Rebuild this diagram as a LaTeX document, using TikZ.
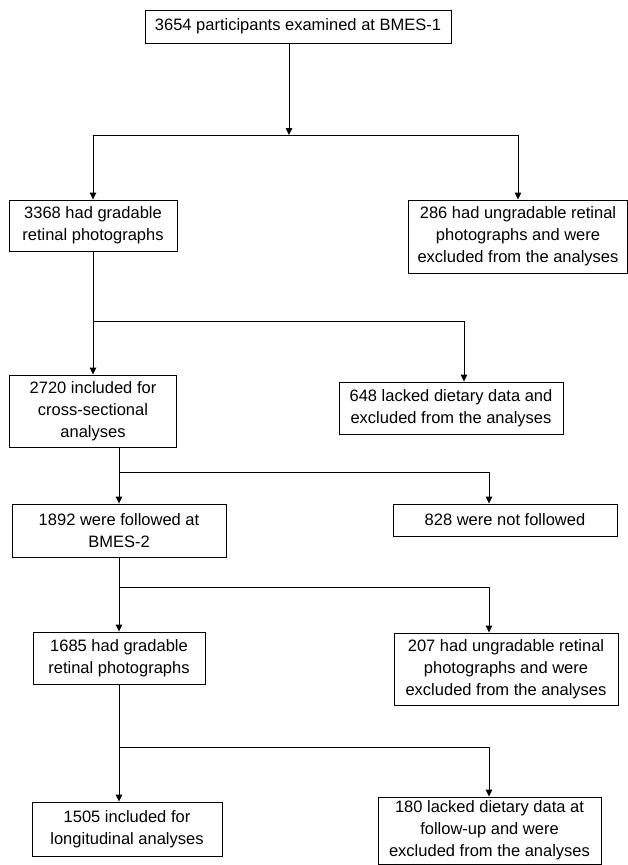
\documentclass[tikz,border=0pt]{standalone}
\usepackage{fontspec}
\setmainfont{Liberation Sans}
\usetikzlibrary{arrows.meta}

\tikzset{
  caixa/.style={draw, line width=0.9bp, align=center, inner sep=2bp,
    font=\fontsize{16.5bp}{22bp}\selectfont},
  seta/.style={line width=0.9bp, -{Triangle[length=7bp,width=6.5bp]}},
  linha/.style={line width=0.9bp}
}

\begin{document}
\begin{tikzpicture}[x=1bp,y=-1bp]
  \useasboundingbox (0,0) rectangle (628,865);

  % Caixas da coluna da esquerda
  \node[caixa, minimum width=306bp, minimum height=33bp] (inicio) at (298,26.5) {3654 participants examined at BMES-1};
  \node[caixa, minimum width=168bp, minimum height=51bp] (grad1) at (93,225.5) {3368 had gradable\\retinal photographs};
  \node[caixa, minimum width=167bp, minimum height=72bp] (cross) at (93,411) {2720 included for\\cross-sectional\\analyses};
  \node[caixa, minimum width=214bp, minimum height=53bp] (seguido) at (119,530.5) {1892 were followed at\\BMES-2};
  \node[caixa, minimum width=172bp, minimum height=52bp] (grad2) at (119,658) {1685 had gradable\\retinal photographs};
  \node[caixa, minimum width=190bp, minimum height=54bp] (longit) at (127,829) {1505 included for\\longitudinal analyses};

  % Caixas da coluna da direita (excluidos)
  \node[caixa, minimum width=219bp, minimum height=73bp] (ungrad1) at (518,236.5) {286 had ungradable retinal\\photographs and were\\excluded from the analyses};
  \node[caixa, minimum width=224bp, minimum height=52bp] (semdieta1) at (451,408) {648 lacked dietary data and\\excluded from the analyses};
  \node[caixa, minimum width=224bp, minimum height=32bp] (naoseg) at (505,520) {828 were not followed};
  \node[caixa, minimum width=224bp, minimum height=72bp] (ungrad2) at (506,669) {207 had ungradable retinal\\photographs and were\\excluded from the analyses};
  \node[caixa, minimum width=223bp, minimum height=67bp] (semdieta2) at (489.5,830.5) {180 lacked dietary data at\\follow-up and were\\excluded from the analyses};

  % BMES-1 -> fotografias
  \coordinate (j1) at (289,135);
  \draw[seta] (inicio.south -| j1) -- (j1);
  \draw[seta] (j1) -| (grad1.north);
  \draw[seta] (j1) -| (ungrad1.north);

  % fotografias -> analise transversal
  \coordinate (k2) at (464,321);
  \draw[seta] (grad1.south) -- (cross.north);
  \draw[seta] (grad1.south |- k2) -- (k2) -- (k2 |- semdieta1.north);

  % transversal -> BMES-2
  \coordinate (j3) at (119,472);
  \coordinate (k3) at (489,472);
  \draw[linha] (cross.south -| j3) -- (j3);
  \draw[seta] (j3) -- (seguido.north);
  \draw[seta] (j3) -- (k3) -- (k3 |- naoseg.north);

  % BMES-2 -> fotografias
  \coordinate (k4) at (489,587);
  \draw[seta] (seguido.south) -- (grad2.north);
  \draw[seta] (seguido.south |- k4) -- (k4) -- (k4 |- ungrad2.north);

  % fotografias -> analise longitudinal
  \coordinate (k5) at (489,747);
  \draw[seta] (grad2.south) -- (grad2.south |- longit.north);
  \draw[seta] (grad2.south |- k5) -- (k5) -- (k5 |- semdieta2.north);
\end{tikzpicture}
\end{document}
